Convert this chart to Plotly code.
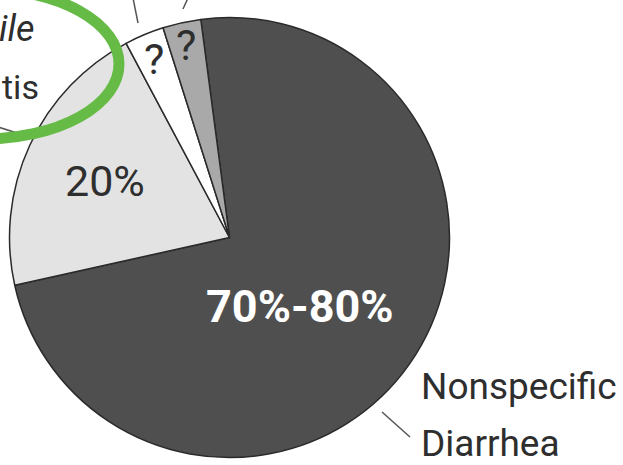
import plotly.graph_objects as go

# ---- data ----
categories = ["Nonspecific Diarrhea", "C. difficile colitis", "Unknown A", "Unknown B"]
values = [73.6, 20.7, 2.9, 2.8]
slice_text = ["70%-80%", "20%", "?", "?"]
slice_colors = ["#4f4f4f", "#e3e3e3", "#ffffff", "#a9a9a9"]
outside_lines = ["Nonspecific", "Diarrhea"]
left_lines = ["<i>ile</i>", "tis"]

W, H = 623, 465
FONT = "Roboto, Liberation Sans, sans-serif"


def px(x):
    return x / W


def py(y):
    return 1 - y / H


cx, cy, r = 229.5, 237.5, 220

fig = go.Figure()
fig.add_trace(go.Pie(
    labels=categories,
    values=values,
    sort=False,
    direction="clockwise",
    rotation=-7.5,
    marker=dict(colors=slice_colors, line=dict(color="#2a2a2a", width=1.5)),
    textinfo="none",
    hoverinfo="label+value",
    domain=dict(x=[px(cx - r), px(cx + r)], y=[py(cy + r), py(cy - r)]),
    showlegend=False,
))

dark = "#2e2e2e"
annotations = [
    dict(x=px(300), y=py(306), text="<b>" + slice_text[0] + "</b>",
         font=dict(family=FONT, size=45, color="white")),
    dict(x=px(105), y=py(181), text=slice_text[1],
         font=dict(family=FONT, size=43, color=dark)),
    dict(x=px(154), y=py(59), text=slice_text[2],
         font=dict(family=FONT, size=43, color=dark)),
    dict(x=px(186), y=py(45), text=slice_text[3],
         font=dict(family=FONT, size=43, color=dark)),
    dict(x=px(419), y=py(386), text=outside_lines[0], xanchor="left",
         font=dict(family=FONT, size=37, color=dark)),
    dict(x=px(419), y=py(443), text=outside_lines[1], xanchor="left",
         font=dict(family=FONT, size=37, color=dark)),
    dict(x=px(37), y=py(29), text=left_lines[0], xanchor="right",
         font=dict(family=FONT, size=36, color=dark)),
    dict(x=px(40), y=py(87), text=left_lines[1], xanchor="right", borderpad=0,
         font=dict(family=FONT, size=34, color=dark)),
]
for a in annotations:
    a.update(xref="paper", yref="paper", showarrow=False)
    a.setdefault("xanchor", "center")
    a.setdefault("yanchor", "middle")

line_style = dict(color="#555555", width=1.5)
shapes = [
    dict(type="line", x0=px(382), y0=py(412), x1=px(410), y1=py(437), line=line_style),
    dict(type="line", x0=px(133), y0=py(-2), x1=px(138), y1=py(23), line=line_style),
    dict(type="line", x0=px(188), y0=py(-2), x1=px(183), y1=py(9), line=line_style),
    dict(type="line", x0=px(-2), y0=py(127), x1=px(33), y1=py(138), line=line_style),
    dict(type="circle", x0=px(-16 - 135), x1=px(-16 + 135), y0=py(64 + 75), y1=py(64 - 75),
         line=dict(color="#66bb46", width=11), layer="above"),
]
for s in shapes:
    s.update(xref="paper", yref="paper")

fig.update_layout(
    width=W, height=H,
    margin=dict(l=0, r=0, t=0, b=0),
    paper_bgcolor="white",
    plot_bgcolor="white",
    annotations=annotations,
    shapes=shapes,
)

fig.write_html("out.html")
